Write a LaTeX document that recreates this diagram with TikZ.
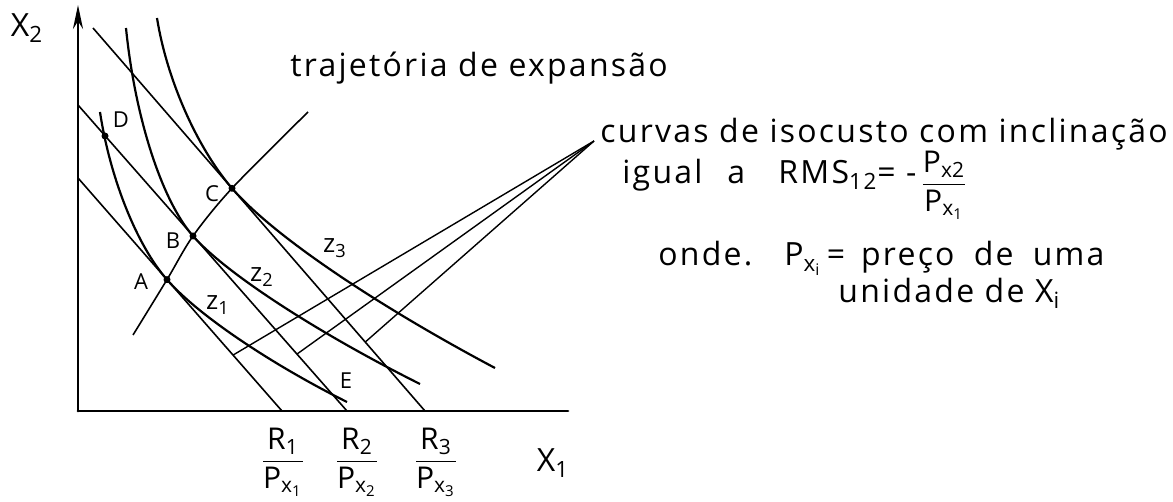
\documentclass[tikz,border=0pt]{standalone}
\usepackage{amsmath}
\usepackage{fontspec}
\setmainfont{Open Sans}
\newfontfamily\manuscrito[LetterSpace=7]{Open Sans}
\usetikzlibrary{arrows.meta}
\newcommand{\tx}[1]{\text{#1}}

\begin{document}
\begin{tikzpicture}[
        x=0.5pt, y=-0.5pt,
        eixo/.style={line width=1.4pt, line cap=round},
        isocusto/.style={line width=0.8pt},
        isoquanta/.style={line width=1.1pt},
        ponteiro/.style={line width=0.7pt},
        ponto/.style={circle, fill, inner sep=0pt, minimum size=3.5pt},
        rotulo/.style={font=\fontsize{11}{13}\selectfont, inner sep=1pt},
        nivel/.style={font=\fontsize{13}{15}\selectfont, inner sep=1pt},
        razao/.style={font=\fontsize{15}{18}\selectfont, inner sep=1pt},
        texto/.style={font=\manuscrito\fontsize{16}{19}\selectfont, anchor=base west, inner sep=0pt}
        ]
        \useasboundingbox (0,0) rectangle (1173,502);

        \coordinate (origem) at (78,411);
        \coordinate (topo) at (78,5);
        \coordinate (fimx) at (568,411);
        \draw[eixo, -{Stealth[length=12pt, width=5pt]}] (origem) -- (topo);
        \draw[eixo] (origem) -- (fimx);
        \node[font=\fontsize{16}{18}\selectfont] (x2) at (27,28) {$\tx{X}_{\tx{2}}$};
        \node[font=\fontsize{16}{18}\selectfont] (x1) at (553,463) {$\tx{X}_{\tx{1}}$};

        \coordinate (i1a) at (78,178);
        \coordinate (i1b) at (282,411);
        \coordinate (i2a) at (78,105);
        \coordinate (i2b) at (347,411);
        \coordinate (i3a) at (93,28);
        \coordinate (i3b) at (425,411);
        \draw[isocusto] (i1a) -- coordinate[pos=0.76] (p1) (i1b);
        \draw[isocusto] (i2a) -- coordinate[pos=0.814] (p2) (i2b);
        \draw[isocusto] (i3a) -- coordinate[pos=0.82] (p3) (i3b);

        \coordinate (A) at (167,279.6);
        \coordinate (B) at (193,236);
        \coordinate (C) at (232,188.3);
        \coordinate (D) at (105,136);

        \draw[isoquanta] (100,112) .. controls (110,178) and (136.8,245.4) .. (A)
            .. controls (196.9,314.1) and (268.9,362.9) .. (347,402);
        \draw[isoquanta] (126,28) .. controls (134.9,117.2) and (161.7,200.4) .. (B)
            .. controls (225.3,272.8) and (316.1,332) .. (420,384);
        \draw[isoquanta] (157,18) .. controls (166.8,79.3) and (196.8,147.3) .. (C)
            .. controls (274.5,237.2) and (379.7,306.8) .. (495,368);

        \coordinate (traja) at (133,335);
        \coordinate (trajb) at (308,112);
        \draw[isocusto] plot[smooth, tension=0.5] coordinates {(traja) (A) (B) (C) (trajb)};

        \coordinate (leque) at (594,141);
        \draw[ponteiro] (p1) -- (leque);
        \draw[ponteiro] (p2) -- (leque);
        \draw[ponteiro] (p3) -- (leque);

        \node[ponto] (pA) at (A) {};
        \node[ponto] (pB) at (B) {};
        \node[ponto] (pC) at (C) {};
        \node[ponto] (pD) at (D) {};
        \node[rotulo] (lA) at (141,282) {A};
        \node[rotulo] (lB) at (173,241) {B};
        \node[rotulo] (lC) at (212,194) {C};
        \node[rotulo] (lD) at (121,120) {D};
        \node[rotulo] (lE) at (346,381) {E};
        \node[nivel] (z1) at (218,305) {$\tx{z}_{\tx{1}}$};
        \node[nivel] (z2) at (262,277) {$\tx{z}_{\tx{2}}$};
        \node[nivel] (z3) at (335,248) {$\tx{z}_{\tx{3}}$};

        \node[razao] (r1) at (283,462) {$\dfrac{\tx{R}_{\tx{1}}}{\tx{P}_{\tx{x}_{\tx{1}}}}$};
        \node[razao] (r2) at (357,462) {$\dfrac{\tx{R}_{\tx{2}}}{\tx{P}_{\tx{x}_{\tx{2}}}}$};
        \node[razao] (r3) at (436,462) {$\dfrac{\tx{R}_{\tx{3}}}{\tx{P}_{\tx{x}_{\tx{3}}}}$};

        \node[texto] (traj) at (290,77) {trajetória de expansão};
        \node[texto] (curvas) at (600,143) {curvas de isocusto com inclinação};
        \node[texto] (igual) at (622,184) {igual};
        \node[texto] (a) at (727,184) {a};
        \node[texto] (rms) at (778,184) {$\tx{RMS}_{\tx{12}}$\tx{= -}};
        \node[razao] (frac) at (944,185) {$\dfrac{\tx{P}_{\tx{x2}}}{\tx{P}_{\tx{x}_{\tx{1}}}}$};
        \node[texto] (onde) at (658,266) {onde.\hspace{1em}$\tx{P}_{\tx{x}_{\tx{i}}}$\,=\hspace{0.5em}preço\hspace{0.6em}de\hspace{0.6em}uma};
        \node[texto] (unid) at (838,303) {unidade de $\tx{X}_{\tx{i}}$};
    \end{tikzpicture}
\end{document}
